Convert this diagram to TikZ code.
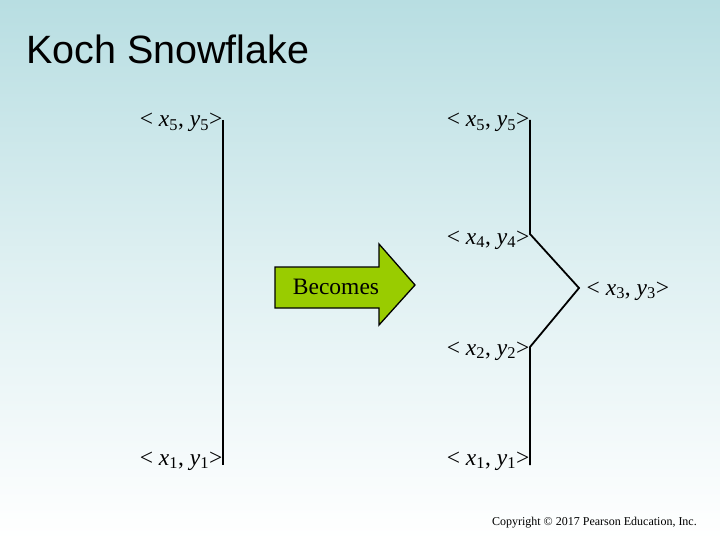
\documentclass[tikz,border=0pt]{standalone}
\usepackage{fontspec}
\setmainfont{Liberation Serif}
\newfontfamily\titlefont{Liberation Sans}
\definecolor{bgtop}{RGB}{184,222,226}
\definecolor{arrowgreen}{RGB}{153,204,0}
\tikzset{
  seg/.style={line width=1.8pt, line join=miter},
  lbl/.style={font=\fontsize{23.5}{27}\selectfont, inner sep=0.5pt},
}
\newcommand{\pt}[1]{< \textit{x}\textsubscript{#1}, \textit{y}\textsubscript{#1}>}
\begin{document}
\begin{tikzpicture}[x=1pt,y=-1pt]
  \useasboundingbox (0,0) rectangle (720,540);
  \shade[top color=bgtop, bottom color=white, middle color=bgtop!45] (0,0) rectangle (720,540);
  \node[anchor=base west, font=\titlefont\fontsize{39.5}{44}\selectfont, inner sep=0pt] (title) at (26,64) {Koch Snowflake};

  % original segment
  \coordinate (a5) at (223,120);
  \coordinate (a1) at (223,465);
  \draw[seg] (a5) -- (a1);
  \node[lbl, anchor=base east] (la5) at ([yshift=-7pt]a5) {\pt{5}};
  \node[lbl, anchor=base east] (la1) at (a1) {\pt{1}};

  % becomes arrow
  \filldraw[fill=arrowgreen, draw=black, line width=1.3pt, line join=miter]
    (275,267) -- (379,267) -- (379,244) -- (415,285) -- (379,325) -- (379,308) -- (275,308) -- cycle;
  \node[lbl] (becomes) at (336,287) {Becomes};

  % new segments
  \foreach \name/\x/\y in {b5/530/120, b4/530/234, b3/579/288, b2/530/347, b1/530/465}
    \coordinate (\name) at (\x,\y);
  \draw[seg] (b5) -- (b4) -- (b3) -- (b2) -- (b1);
  \node[lbl, anchor=base east] (lb5) at ([yshift=-7pt]b5) {\pt{5}};
  \node[lbl, anchor=base east] (lb4) at ([yshift=-10pt]b4) {\pt{4}};
  \node[lbl, anchor=base west] (lb3) at ([xshift=7pt,yshift=-7pt]b3) {\pt{3}};
  \node[lbl, anchor=base east] (lb2) at ([yshift=-8pt]b2) {\pt{2}};
  \node[lbl, anchor=base east] (lb1) at (b1) {\pt{1}};

  \node[anchor=base east, font=\fontsize{12}{14}\selectfont, inner sep=0pt] (copy) at (697,525) {Copyright \textcopyright{} 2017 Pearson Education, Inc.};
\end{tikzpicture}
\end{document}
